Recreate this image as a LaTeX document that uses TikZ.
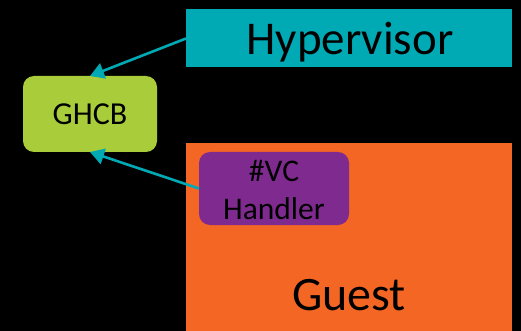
\documentclass[tikz,border=0pt]{standalone}
\usepackage{fontspec}
\setmainfont{Carlito}
\usetikzlibrary{arrows.meta}
\definecolor{hypteal}{RGB}{0,170,181}
\definecolor{ghcbgreen}{RGB}{168,204,58}
\definecolor{guestorange}{RGB}{244,102,36}
\definecolor{vcpurple}{RGB}{127,42,143}
\tikzset{
  block/.style={inner sep=0pt, outer sep=0pt, text=black},
  label/.style={inner sep=0pt, outer sep=0pt, text=black, anchor=base},
  link/.style={draw=hypteal, line width=2.6pt,
    -{Triangle[length=14pt,width=16pt]}},
}
\begin{document}
\begin{tikzpicture}[x=1pt,y=-1pt]
  % page background
  \fill[black] (0,0) rectangle (521,331);
  \useasboundingbox (0,0) rectangle (521,331);

  % hypervisor bar
  \node[block, fill=hypteal, minimum width=326pt, minimum height=58pt]
        (hyp) at (349,38.5) {};
  \node[label, font=\fontsize{47}{52}\selectfont] (hyplbl) at (350,55) {Hypervisor};

  % guest area
  \node[block, fill=guestorange, minimum width=326pt, minimum height=190pt]
        (guest) at (349,238) {};
  \node[label, font=\fontsize{48}{54}\selectfont] (guestlbl) at (349,310) {Guest};

  % shared control block
  \node[block, fill=ghcbgreen, rounded corners=11pt, minimum width=134pt,
        minimum height=76pt] (ghcb) at (90,114) {};
  \node[label, font=\fontsize{32}{38}\selectfont] (ghcblbl) at (90,125) {GHCB};

  % #VC exception handler inside the guest
  \node[block, fill=vcpurple, rounded corners=11pt, minimum width=150pt,
        minimum height=73pt] (vc) at (274,188.5) {};
  \node[label, font=\fontsize{31.5}{36}\selectfont] (vctop) at (274,181) {\#VC};
  \node[label, font=\fontsize{31.5}{36}\selectfont] (vcbot) at (274,219) {Handler};

  % both sides write to the GHCB
  \draw[link] (hyp.west) -- (ghcb.north);
  \draw[link] (vc.west) -- (ghcb.south);
\end{tikzpicture}
\end{document}
